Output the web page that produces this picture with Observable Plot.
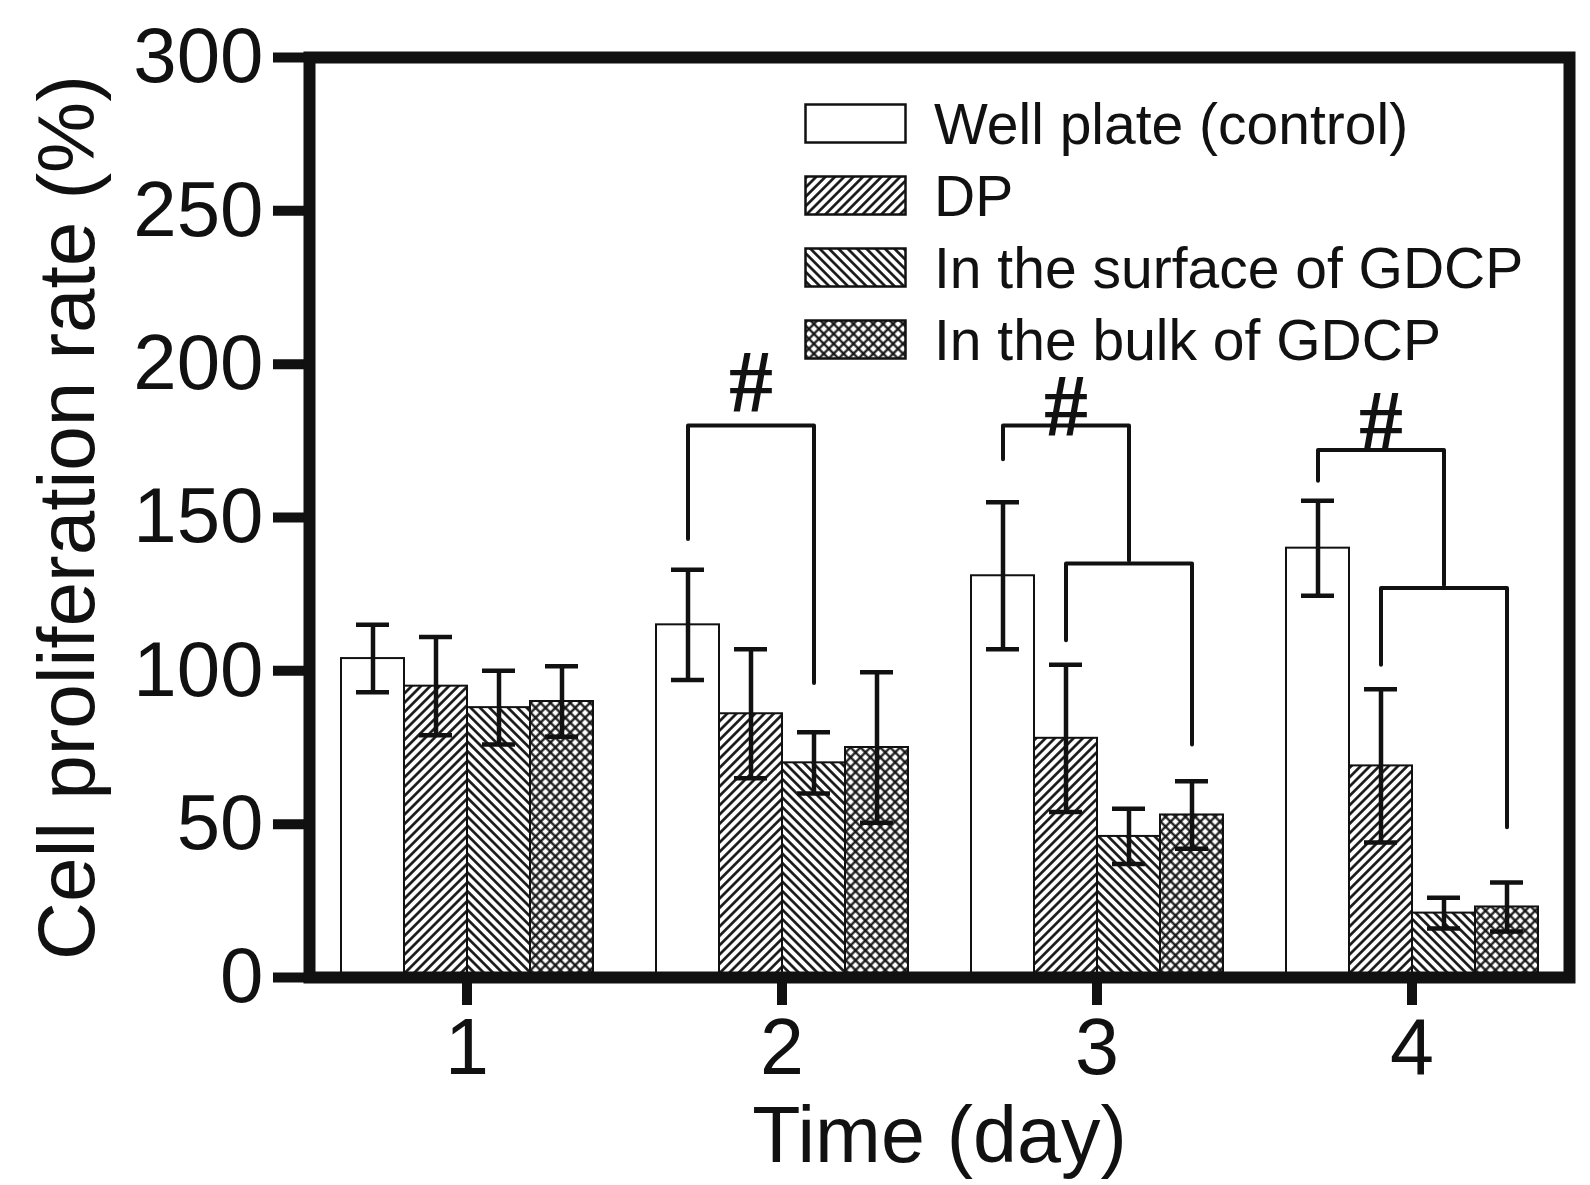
<!DOCTYPE html>
<html>
<head>
<meta charset="utf-8">
<script src="https://cdn.jsdelivr.net/npm/d3@7"></script>
<script src="https://cdn.jsdelivr.net/npm/@observablehq/plot@0.6"></script>
<style>
  body { margin: 0; background: #fff; font-family: "Liberation Sans", Arial, sans-serif; }
  #wrap { position: relative; width: 1590px; height: 1185px; }
  #legend { position: absolute; left: 804px; top: 88px; }
  .row { display: flex; align-items: center; height: 72px; }
  .row svg { margin-right: 26px; flex: none; }
  .row span { font-size: 57px; color: #111; white-space: nowrap; }
</style>
</head>
<body>
<svg width="0" height="0" style="position:absolute">
  <defs>
    <pattern id="hatch-dp" width="6.6" height="6.6" patternUnits="userSpaceOnUse" patternTransform="rotate(45)">
      <rect width="6.6" height="6.6" fill="white"/>
      <line x1="3.3" y1="-1" x2="3.3" y2="7.6" stroke="#111" stroke-width="2.6"/>
    </pattern>
    <pattern id="hatch-surface" width="6.6" height="6.6" patternUnits="userSpaceOnUse" patternTransform="rotate(-45)">
      <rect width="6.6" height="6.6" fill="white"/>
      <line x1="3.3" y1="-1" x2="3.3" y2="7.6" stroke="#111" stroke-width="2.6"/>
    </pattern>
    <pattern id="hatch-bulk" width="7" height="7" patternUnits="userSpaceOnUse" patternTransform="rotate(45)">
      <rect width="7" height="7" fill="white"/>
      <line x1="3.5" y1="-1" x2="3.5" y2="8" stroke="#111" stroke-width="2.2"/>
      <line x1="-1" y1="3.5" x2="8" y2="3.5" stroke="#111" stroke-width="2.2"/>
    </pattern>
  </defs>
</svg>
<div id="wrap"><div id="legend"></div></div>
<script>
const days = ["1", "2", "3", "4"];
const groups = ["Well plate (control)", "DP", "In the surface of GDCP", "In the bulk of GDCP"];
const fills = ["white", "url(#hatch-dp)", "url(#hatch-surface)", "url(#hatch-bulk)"];

// mean and error (+/-) per day
const wellPlate = [104, 115, 131, 140];
const wellPlateErr = [11, 18, 24, 15.5];
const dp = [95, 86, 78, 69];
const dpErr = [16, 21, 24, 25];
const surface = [88, 70, 46, 21];
const surfaceErr = [12, 10, 9, 5];
const bulk = [90, 75, 53, 23];
const bulkErr = [11.5, 24.5, 11, 8];

const yTicks = [0, 50, 100, 150, 200, 250, 300];

// significance brackets
const bracketDay = ["2", "3", "3", "4", "4"];
const bracketFrom = [groups[0], groups[0], groups[1], groups[0], groups[1]];
const bracketTo = [groups[2], groups[2], groups[3], groups[2], groups[3]];
const bracketFromY = [143, 169, 110, 162, 102];
const bracketTopY = [180, 180, 135, 172, 127];
const bracketToY = [96, 136, 76, 128, 49];
const hashDay = ["2", "3", "4"];
const hashY = [194, 186, 181];

const means = [wellPlate, dp, surface, bulk];
const errs = [wellPlateErr, dpErr, surfaceErr, bulkErr];

const table = [];
groups.forEach((g, i) => days.forEach((d, j) => {
  table.push({day: d, group: g, value: means[i][j], lo: means[i][j] - errs[i][j], hi: means[i][j] + errs[i][j]});
}));

const brackets = [];
bracketDay.forEach((d, i) => {
  brackets.push({id: i, day: d, group: bracketFrom[i], y: bracketFromY[i]});
  brackets.push({id: i, day: d, group: bracketFrom[i], y: bracketTopY[i]});
  brackets.push({id: i, day: d, group: bracketTo[i], y: bracketTopY[i]});
  brackets.push({id: i, day: d, group: bracketTo[i], y: bracketToY[i]});
});
const hashes = hashDay.map((d, i) => ({day: d, group: groups[1], y: hashY[i]}));

const chart = Plot.plot({
  width: 1590,
  height: 1185,
  marginTop: 57,
  marginBottom: 208,
  marginLeft: 308,
  marginRight: 21,
  style: {fontFamily: "Liberation Sans, Arial, sans-serif", background: "white", color: "#111"},
  fx: {domain: days, padding: 0},
  x: {domain: groups, paddingInner: 0, paddingOuter: 0.48, axis: null},
  y: {domain: [0, 300]},
  color: {domain: groups, range: fills},
  marks: [
    Plot.barY(table, {fx: "day", x: "group", y: "value", fill: "group", stroke: "#111", strokeWidth: 2}),
    Plot.ruleX(table, {fx: "day", x: "group", y1: "lo", y2: "hi", stroke: "#111", strokeWidth: 4.5}),
    Plot.tickY(table, {fx: "day", x: "group", y: "lo", stroke: "#111", strokeWidth: 4.5, insetLeft: 15, insetRight: 15}),
    Plot.tickY(table, {fx: "day", x: "group", y: "hi", stroke: "#111", strokeWidth: 4.5, insetLeft: 15, insetRight: 15}),
    Plot.line(brackets, {fx: "day", x: "group", y: "y", z: "id", stroke: "#111", strokeWidth: 4, curve: "linear"}),
    Plot.text(hashes, {fx: "day", x: "group", y: "y", text: () => "#", fontSize: 88, fontWeight: "bold", fontFamily: "Liberation Serif, serif", fill: "#111"}),
    Plot.axisY({ticks: yTicks, tickSize: 36, tickPadding: 10, fontSize: 78, strokeWidth: 10, label: null}),
    Plot.axisY({ticks: [], tickSize: 0, fontSize: 80,
      label: "Cell proliferation rate (%)", labelAnchor: "center", labelOffset: 272, labelArrow: false}),
    Plot.axisFx({anchor: "bottom", tickSize: 28, tickPadding: 12, fontSize: 79, strokeWidth: 10, label: null}),
    Plot.axisFx({anchor: "bottom", ticks: [], tickSize: 0, fontSize: 79,
      label: "Time (day)", labelAnchor: "center", labelOffset: 184}),
    Plot.frame({facet: "super", stroke: "#111", strokeWidth: 12})
  ]
});
document.getElementById("wrap").prepend(chart);

// legend inside the plot area
const legend = d3.select("#legend");
groups.forEach((g, i) => {
  const row = legend.append("div").attr("class", "row");
  row.append("svg").attr("width", 104).attr("height", 42)
    .append("rect").attr("x", 1.5).attr("y", 1.5).attr("width", 100).attr("height", 38)
    .attr("fill", fills[i]).attr("stroke", "#111").attr("stroke-width", 2.5);
  row.append("span").text(g);
});
</script>
</body>
</html>
